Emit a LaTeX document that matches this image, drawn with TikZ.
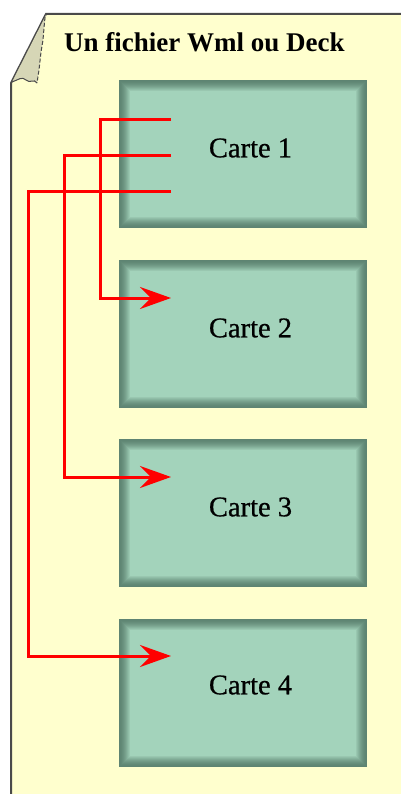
\documentclass[tikz,border=0pt]{standalone}
\usepackage{fontspec}
\setmainfont{Liberation Serif}
\newfontfamily\cardfont[FakeBold=0.7]{Liberation Serif}
\usetikzlibrary{arrows.meta,calc}
\definecolor{pagecol}{HTML}{FFFFCE}
\definecolor{foldcol}{HTML}{D6D6B6}
\definecolor{edgecol}{HTML}{4A4A4A}
\definecolor{facecol}{HTML}{A3D3BB}
\definecolor{bevcol}{HTML}{5E8472}
\definecolor{arrcol}{HTML}{FF0000}
\tikzset{
  cardbox/.style={minimum width=248pt, minimum height=148pt, inner sep=0pt, outer sep=0pt,
    path picture={
      \foreach \i in {0,...,11}{
        \pgfmathtruncatemacro\p{100*(\i/11)^1.6}
        \fill[facecol!\p!bevcol]
          ([xshift=\i pt, yshift=-\i pt]path picture bounding box.north west)
          rectangle ([xshift=-\i pt, yshift=\i pt]path picture bounding box.south east);
      }
    }},
  cardlabel/.style={inner sep=0pt, font=\cardfont\fontsize{28.5}{32}\selectfont},
  titlelabel/.style={inner sep=0pt, font=\fontsize{27}{30}\selectfont\bfseries},
  redarrow/.style={draw=arrcol, line width=3pt, miter limit=10,
    -{Stealth[length=31pt, width=22pt, inset=11pt]}}
}
\begin{document}
\begin{tikzpicture}[x=1pt, y=-1pt]
\useasboundingbox (0,0) rectangle (401,794);
% page
\fill[white] (0,0) rectangle (401,794);
\fill[pagecol] (46,14) -- (402,14) -- (402,795) -- (11,795) -- (11,83) -- cycle;
\draw[edgecol, line width=2pt] (402,14) -- (46,14) -- (11,83) -- (11,795);
% folded corner
\fill[foldcol] (46,15) -- (12,82) .. controls (18,80) and (22,76) .. (26,80)
  .. controls (30,84) and (34,78) .. (37,83) -- (39,70) -- (41,52) -- (43,40) -- (44,28) -- cycle;
\draw[edgecol, line width=1pt, dash pattern=on 4pt off 2pt]
  (45,17) -- (44,28) -- (43,40) -- (41,52) -- (39,70) -- (37,83);
\draw[edgecol, line width=1pt]
  (12,82) .. controls (18,80) and (22,76) .. (26,80) .. controls (30,84) and (34,78) .. (37,83);
% title
\node[titlelabel, anchor=base west] (title) at (64,52) {Un fichier Wml ou Deck};
% cards
\node[cardbox] (c1) at (243,154) {};
\node[cardbox] (c2) at (243,334) {};
\node[cardbox] (c3) at (243,513) {};
\node[cardbox] (c4) at (243,693) {};
\node[cardlabel] (l1) at ([xshift=7.5pt, yshift=6pt]c1.center) {Carte 1};
\node[cardlabel] (l2) at ([xshift=7.5pt, yshift=6pt]c2.center) {Carte 2};
\node[cardlabel] (l3) at ([xshift=7.5pt, yshift=6pt]c3.center) {Carte 3};
\node[cardlabel] (l4) at ([xshift=7.5pt, yshift=8pt]c4.center) {Carte 4};
% connector anchor points
\coordinate (s1) at (171,120);
\coordinate (s2) at (171,156);
\coordinate (s3) at (171,192);
\coordinate (e2) at (171,298);
\coordinate (e3) at (171,477);
\coordinate (e4) at (171,656);
\coordinate (v1) at (100,0);
\coordinate (v2) at (64,0);
\coordinate (v3) at (28,0);
% connectors
\draw[redarrow] (s1) -- (s1 -| v1) |- (e2);
\draw[redarrow] (s2) -- (s2 -| v2) |- (e3);
\draw[redarrow] (s3) -- (s3 -| v3) |- (e4);
\end{tikzpicture}
\end{document}
